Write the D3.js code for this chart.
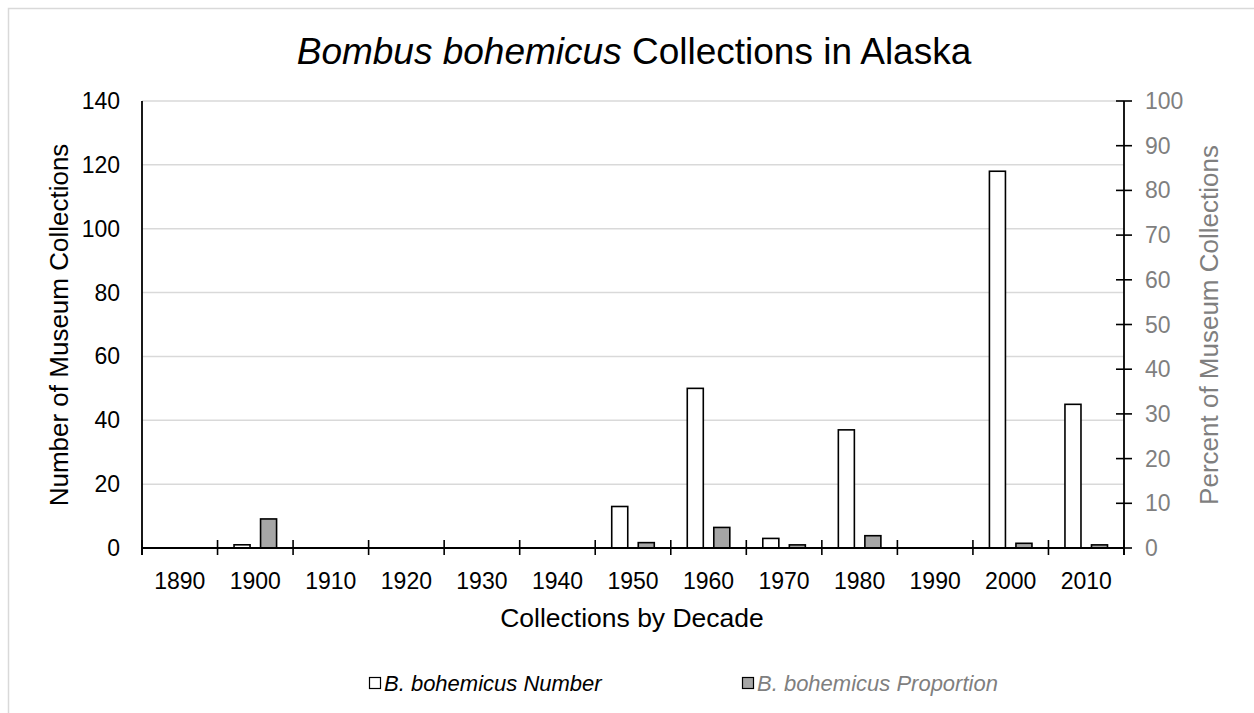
<!DOCTYPE html>
<html>
  <head>
    <title>Bombus bohemicus Collections in Alaska</title>
    <script src="https://d3js.org/d3.v7.min.js"></script>
    <style>
      body { margin: 0; background: #fff; }
      text { font-family: "Liberation Sans", Arial, sans-serif; }
    </style>
  </head>
  <body>
    <script>

      // data
      var decades = ["1890", "1900", "1910", "1920", "1930", "1940", "1950", "1960", "1970", "1980", "1990", "2000", "2010"]
      var numbers = [0, 1, 0, 0, 0, 0, 13, 50, 3, 37, 0, 118, 45]
      var proportions = [0, 6.5, 0, 0, 0, 0, 1.2, 4.6, 0.7, 2.75, 0, 1.05, 0.7]
      var leftTicks = [0, 20, 40, 60, 80, 100, 120, 140]
      var rightTicks = [0, 10, 20, 30, 40, 50, 60, 70, 80, 90, 100]

      // sizes
      var w_svg = 1254
      var h_svg = 713
      var left = 142
      var right = 1124
      var top_ = 101
      var bottom = 548

      var svg = d3.select("body")
        .append("svg")
        .attr("width", w_svg)
        .attr("height", h_svg)

      // chart frame
      svg.append("rect")
        .attr("x", 8.5)
        .attr("y", 8.5)
        .attr("width", w_svg)
        .attr("height", h_svg)
        .attr("fill", "none")
        .attr("stroke", "#d9d9d9")
        .attr("stroke-width", 1.5)

      // scales
      var x_scale = d3.scaleBand()
        .domain(decades)
        .range([left, right])
        .padding(0)

      var x_inner = d3.scaleBand()
        .domain(["number", "proportion"])
        .range([0, x_scale.bandwidth()])
        .paddingInner(0.396)
        .paddingOuter(0.622)

      var y_left = d3.scaleLinear()
        .domain([0, 140])
        .range([bottom, top_])

      var y_right = d3.scaleLinear()
        .domain([0, 100])
        .range([bottom, top_])

      // gridlines
      svg.append("g")
        .selectAll("line")
        .data(leftTicks.filter(function(d) { return d > 0 }))
        .enter()
        .append("line")
        .attr("x1", left)
        .attr("x2", right)
        .attr("y1", function(d) { return y_left(d) })
        .attr("y2", function(d) { return y_left(d) })
        .attr("stroke", "#d9d9d9")
        .attr("stroke-width", 1.5)

      // number bars
      svg.append("g")
        .selectAll("rect")
        .data(numbers.map(function(d, i) { return {decade: decades[i], value: d} }).filter(function(d) { return d.value > 0 }))
        .enter()
        .append("rect")
        .attr("x", function(d) { return x_scale(d.decade) + x_inner("number") })
        .attr("y", function(d) { return y_left(d.value) })
        .attr("width", x_inner.bandwidth())
        .attr("height", function(d) { return bottom - y_left(d.value) })
        .attr("fill", "#ffffff")
        .attr("stroke", "#000")
        .attr("stroke-width", 1.6)

      // proportion bars
      svg.append("g")
        .selectAll("rect")
        .data(proportions.map(function(d, i) { return {decade: decades[i], value: d} }).filter(function(d) { return d.value > 0 }))
        .enter()
        .append("rect")
        .attr("x", function(d) { return x_scale(d.decade) + x_inner("proportion") })
        .attr("y", function(d) { return y_right(d.value) })
        .attr("width", x_inner.bandwidth())
        .attr("height", function(d) { return bottom - y_right(d.value) })
        .attr("fill", "#a6a6a6")
        .attr("stroke", "#000")
        .attr("stroke-width", 1.6)

      // x axis: ticks between categories
      var x_axis = svg.append("g")
      x_axis.append("line")
        .attr("x1", left)
        .attr("x2", right)
        .attr("y1", bottom)
        .attr("y2", bottom)
        .attr("stroke", "#000")
        .attr("stroke-width", 1.8)
      x_axis.selectAll(".tick")
        .data(decades.concat(["end"]))
        .enter()
        .append("line")
        .attr("class", "tick")
        .attr("x1", function(d) { return d == "end" ? right : x_scale(d) })
        .attr("x2", function(d) { return d == "end" ? right : x_scale(d) })
        .attr("y1", bottom - 8)
        .attr("y2", bottom + 7)
        .attr("stroke", "#000")
        .attr("stroke-width", 1.6)
      x_axis.selectAll(".label")
        .data(decades)
        .enter()
        .append("text")
        .attr("class", "label")
        .attr("x", function(d) { return x_scale(d) + x_scale.bandwidth() / 2 })
        .attr("y", 589)
        .attr("text-anchor", "middle")
        .attr("font-size", "23px")
        .attr("fill", "#000")
        .text(function(d) { return d })

      // left axis
      var left_axis = svg.append("g")
      left_axis.append("line")
        .attr("x1", left)
        .attr("x2", left)
        .attr("y1", top_)
        .attr("y2", bottom + 7)
        .attr("stroke", "#000")
        .attr("stroke-width", 1.8)
      left_axis.selectAll("text")
        .data(leftTicks)
        .enter()
        .append("text")
        .attr("x", 120)
        .attr("y", function(d) { return y_left(d) + 8 })
        .attr("text-anchor", "end")
        .attr("font-size", "23px")
        .attr("fill", "#000")
        .text(function(d) { return d })

      // right axis
      var right_axis = svg.append("g")
      right_axis.append("line")
        .attr("x1", right)
        .attr("x2", right)
        .attr("y1", top_)
        .attr("y2", bottom + 7)
        .attr("stroke", "#000")
        .attr("stroke-width", 1.8)
      right_axis.selectAll(".tick")
        .data(rightTicks)
        .enter()
        .append("line")
        .attr("class", "tick")
        .attr("x1", right - 8)
        .attr("x2", right + 8)
        .attr("y1", function(d) { return y_right(d) })
        .attr("y2", function(d) { return y_right(d) })
        .attr("stroke", "#000")
        .attr("stroke-width", 1.6)
      right_axis.selectAll("text")
        .data(rightTicks)
        .enter()
        .append("text")
        .attr("x", 1145)
        .attr("y", function(d) { return y_right(d) + 8 })
        .attr("text-anchor", "start")
        .attr("font-size", "23px")
        .attr("fill", "#7f7f7f")
        .text(function(d) { return d })

      // title
      var title = svg.append("text")
        .attr("x", 634)
        .attr("y", 64)
        .attr("text-anchor", "middle")
        .attr("font-size", "37px")
        .attr("fill", "#000")
      title.append("tspan").attr("font-style", "italic").text("Bombus bohemicus")
      title.append("tspan").text(" Collections in Alaska")

      // axis titles
      svg.append("text")
        .attr("x", 632)
        .attr("y", 627)
        .attr("text-anchor", "middle")
        .attr("font-size", "26.5px")
        .attr("fill", "#000")
        .text("Collections by Decade")

      svg.append("text")
        .attr("transform", "translate(68, 325) rotate(-90)")
        .attr("text-anchor", "middle")
        .attr("font-size", "26px")
        .attr("fill", "#000")
        .text("Number of Museum Collections")

      svg.append("text")
        .attr("transform", "translate(1218, 325) rotate(-90)")
        .attr("text-anchor", "middle")
        .attr("font-size", "26px")
        .attr("fill", "#7f7f7f")
        .text("Percent of Museum Collections")

      // legend
      var legend = [
        {name: "B. bohemicus Number", fill: "#ffffff", color: "#000", x: 369},
        {name: "B. bohemicus Proportion", fill: "#a6a6a6", color: "#7f7f7f", x: 742}
      ]
      var items = svg.append("g")
        .selectAll("g")
        .data(legend)
        .enter()
        .append("g")
      items.append("rect")
        .attr("x", function(d) { return d.x + 0.5 })
        .attr("y", 677.5)
        .attr("width", 11)
        .attr("height", 11)
        .attr("fill", function(d) { return d.fill })
        .attr("stroke", "#000")
        .attr("stroke-width", 1.2)
      items.append("text")
        .attr("x", function(d) { return d.x + 15 })
        .attr("y", 691)
        .attr("font-size", "22px")
        .attr("font-style", "italic")
        .attr("fill", function(d) { return d.color })
        .text(function(d) { return d.name })

    </script>
  </body>
</html>
